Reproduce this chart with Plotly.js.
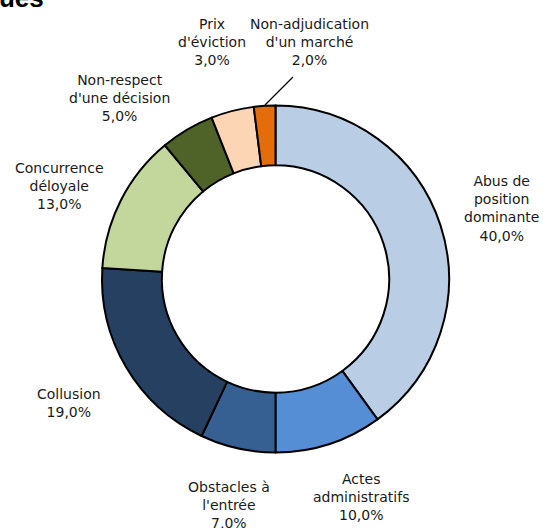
<!DOCTYPE html>
<html>
<head>
<meta charset="utf-8">
<script src="https://cdn.plot.ly/plotly-3.0.1.min.js"></script>
<style>html,body{margin:0;padding:0;background:#fff;}#chart{width:543px;height:528px;}</style>
</head>
<body>
<div id="chart"></div>
<script>
var categories = ["Abus de<br>position<br>dominante", "Actes<br>administratifs", "Obstacles à<br>l'entrée", "Collusion", "Concurrence<br>déloyale", "Non-respect<br>d'une décision", "Prix<br>d'éviction", "Non-adjudication<br>d'un marché"];
var values = [40, 10, 7, 19, 13, 5, 4, 2];
// percentages as printed on the labels
var labelPercents = [40, 10, 7, 19, 13, 5, 3, 2];
var colors = ["#B9CDE5", "#558ED5", "#376092", "#254061", "#C3D69B", "#4F6228", "#FCD5B5", "#E46C0A"];

var W = 543, H = 528;
// label block centres in pixels (layout only)
var labelCentres = [[501, 208], [361, 497], [229, 505], [69, 403], [59, 186], [119, 98], [212, 42], [309, 42]];

function px(x) { return x / W; }
function py(y) { return 1 - y / H; }

var trace = {
  type: "pie",
  labels: categories,
  values: values,
  hole: 0.655,
  sort: false,
  direction: "clockwise",
  rotation: 0,
  marker: {colors: colors, line: {color: "#000", width: 2}},
  textinfo: "none",
  domain: {x: [px(102), px(449)], y: [py(452.5), py(105.5)]},
  showlegend: false,
  hoverinfo: "label+value"
};

var annotations = categories.map(function (c, i) {
  return {
    text: c + "<br>" + labelPercents[i].toFixed(1).replace(".", ",") + "%",
    xref: "paper", yref: "paper",
    x: px(labelCentres[i][0]), y: py(labelCentres[i][1]),
    xanchor: "center", yanchor: "middle", align: "center", showarrow: false,
    font: {family: "DejaVu Sans, Verdana, sans-serif", size: 14, color: "#1a1a1a"}
  };
});
annotations.push({
  text: "<b>ques</b>", xref: "paper", yref: "paper",
  x: px(46), y: py(15), xanchor: "right", yanchor: "bottom", showarrow: false,
  font: {family: "Liberation Sans, Arial, sans-serif", size: 26, color: "#000"}
});

var layout = {
  width: W, height: H,
  margin: {l: 0, r: 0, t: 0, b: 0},
  paper_bgcolor: "#fff",
  showlegend: false,
  annotations: annotations,
  shapes: [{
    type: "line", xref: "paper", yref: "paper",
    x0: px(293), y0: py(77), x1: px(265), y1: py(105),
    line: {color: "#000", width: 1.3}
  }]
};
Plotly.newPlot("chart", [trace], layout, {displayModeBar: false, staticPlot: true});
</script>
</body>
</html>
